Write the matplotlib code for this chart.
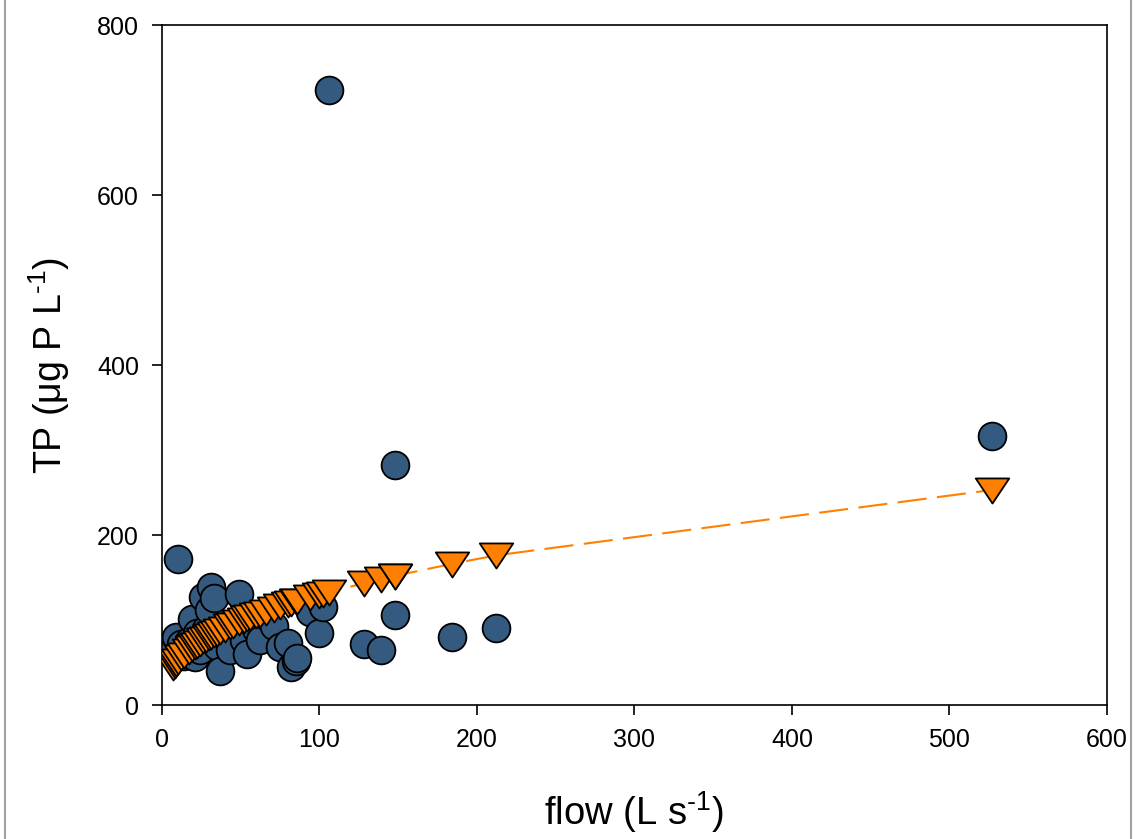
import numpy as np
import matplotlib.pyplot as plt
from matplotlib.lines import Line2D
from matplotlib.path import Path

plt.rcParams['font.family'] = ['Liberation Sans', 'DejaVu Sans']
plt.rcParams['mathtext.fontset'] = 'custom'
plt.rcParams['mathtext.rm'] = 'Liberation Sans'
plt.rcParams['mathtext.it'] = 'Liberation Sans'

# stream flow (L/s), measured TP and fitted TP (ug P/L)
flow = [7, 8, 9, 10, 12, 14, 17, 19, 21, 22, 24, 26, 28, 30, 31, 33, 35, 37,
        40, 43, 45, 49, 52, 54, 56, 60, 62, 66, 71, 75, 80, 82, 85, 86, 94,
        100, 102, 106, 128, 139, 148, 148, 184, 212, 527]
tp_obs = [62, 67, 80, 172, 72, 58, 75, 101, 57, 85, 65, 127, 90, 112, 139, 126,
          70, 40, 82, 65, 95, 131, 76, 60, 100, 90, 76, 105, 93, 68, 73, 45,
          52, 55, 110, 85, 115, 723, 72, 65, 282, 106, 80, 91, 317]
tp_fit = [45, 47, 50, 52, 56, 59, 64, 67, 70, 71, 73, 76, 78, 80, 81, 83, 85,
          87, 90, 93, 94, 98, 100, 102, 103, 106, 107, 110, 113, 116, 119, 120,
          122, 122, 127, 130, 131, 133, 143, 148, 152, 152, 166, 176, 253]

fig = plt.figure(figsize=(11.35, 8.39), dpi=100)
ax = fig.add_axes([0.1427, 0.1597, 0.8326, 0.8105])

tri = Path([(-1, 0.72), (1, 0.72), (0, -0.78), (-1, 0.72)],
           [Path.MOVETO, Path.LINETO, Path.LINETO, Path.CLOSEPOLY])

ax.plot(flow, tp_fit, color='#ff8000', lw=1.5, dashes=(14, 5), zorder=2)
ax.scatter(flow, tp_obs, s=400, c='#355a7f', edgecolors='black',
           linewidths=1.3, zorder=3)
ax.scatter(flow, tp_fit, s=580, marker=tri, c='#ff8000', edgecolors='black',
           linewidths=1.3, zorder=4)

ax.set_xlim(0, 600)
ax.set_ylim(0, 800)
ax.set_xticks(np.arange(0, 601, 100))
ax.set_yticks(np.arange(0, 801, 200))
ax.tick_params(direction='out', length=7.5, width=1.2, labelsize=18, pad=9,
               top=False, right=False)
for s in ax.spines.values():
    s.set_linewidth(1.2)

ax.set_xlabel('flow (L s$^{\\text{-1}}$)', fontsize=27.5, labelpad=27)
ax.set_ylabel('TP (μg P L$^{\\text{-1}}$)', fontsize=27, labelpad=18)

# page edges
fig.add_artist(Line2D([0.0045, 0.0045], [0, 1], color='#a0a0a0', lw=1.5))
fig.add_artist(Line2D([0.9965, 0.9965], [0, 1], color='#a0a0a0', lw=1.5))

fig.savefig('out.png', dpi=100)
